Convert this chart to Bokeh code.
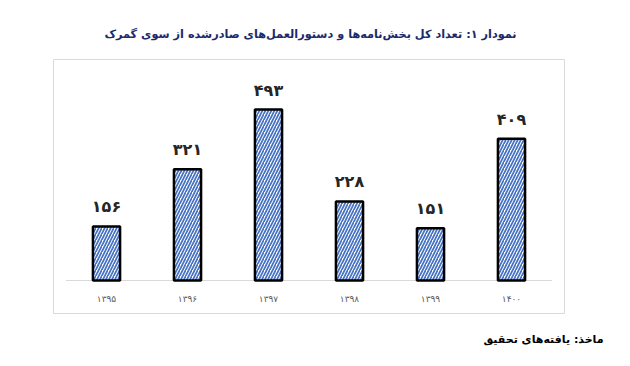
from bokeh.plotting import figure
from bokeh.models import ColumnDataSource, Label, Range1d
from bokeh.embed import file_html
from bokeh.resources import INLINE
from bokeh.core.properties import value

years = [1395, 1396, 1397, 1398, 1399, 1400]
counts = [156, 321, 493, 228, 151, 409]
title_text = "نمودار ۱: تعداد کل بخش\u200cنامه\u200cها و دستورالعمل\u200cهای صادرشده از سوی گمرک"
source_text = "ماخذ: یافته\u200cهای تحقیق"

FA = str.maketrans("0123456789", "۰۱۲۳۴۵۶۷۸۹")
def fa(n):
    return str(n).translate(FA)

W, H = 630, 366
# page layout (pixels): first category centre, category step, baseline, px per unit
X0, STEP, BASE, K = 106, 81, 280, 0.3467

def sx(px):
    return (px - X0) / STEP

def sy(py):
    return (BASE - py) / K

idx = list(range(len(years)))
src = ColumnDataSource(dict(
    x=idx,
    top=counts,
    lab=[fa(c) for c in counts],
    year=[fa(y) for y in years],
    zero=[0] * len(years),
))

FONT = value("DejaVu Sans")

# the frame fills the whole page
p = figure(width=W, height=H, output_backend="svg", toolbar_location=None,
           x_axis_location=None, y_axis_location=None,
           x_range=Range1d(sx(0), sx(W)), y_range=Range1d(sy(H), sy(0)),
           min_border=0)
p.grid.visible = False
p.outline_line_color = None
p.background_fill_color = "white"
p.border_fill_color = "white"

# chart box border
p.quad(left=[sx(53)], right=[sx(564)], top=[sy(59)], bottom=[sy(313)],
       fill_color=None, line_color="#d9d9d9", line_width=1)

# baseline
p.segment(x0=[-0.5], x1=[len(years) - 0.5], y0=[0], y1=[0],
          line_color="#d9d9d9", line_width=1)

p.vbar(x="x", top="top", bottom=0, width=0.335, source=src,
       fill_color="white", line_color="black", line_width=2.5,
       hatch_pattern="right_diagonal_line", hatch_color="#4472c4",
       hatch_scale=6, hatch_weight=1.7)

p.text(x="x", y="top", text="lab", source=src, text_align="center",
       text_baseline="bottom", y_offset=-10, text_font=FONT,
       text_font_style="bold", text_font_size="16px", text_color="#262626")

p.text(x="x", y="zero", text="year", source=src, text_align="center",
       text_baseline="middle", y_offset=18, text_font=FONT,
       text_font_size="9px", text_color="#595959")

p.add_layout(Label(x=sx(310), y=sy(34), text=title_text,
                   text_align="center", text_baseline="middle",
                   text_font="DejaVu Sans", text_font_style="bold",
                   text_font_size="11.3px", text_color="#1c2a6b"))
p.add_layout(Label(x=sx(603), y=sy(339), text=source_text,
                   text_align="right", text_baseline="middle",
                   text_font="DejaVu Sans", text_font_style="bold",
                   text_font_size="11px", text_color="#000000"))

open("out.html", "w").write(file_html(p, INLINE))
